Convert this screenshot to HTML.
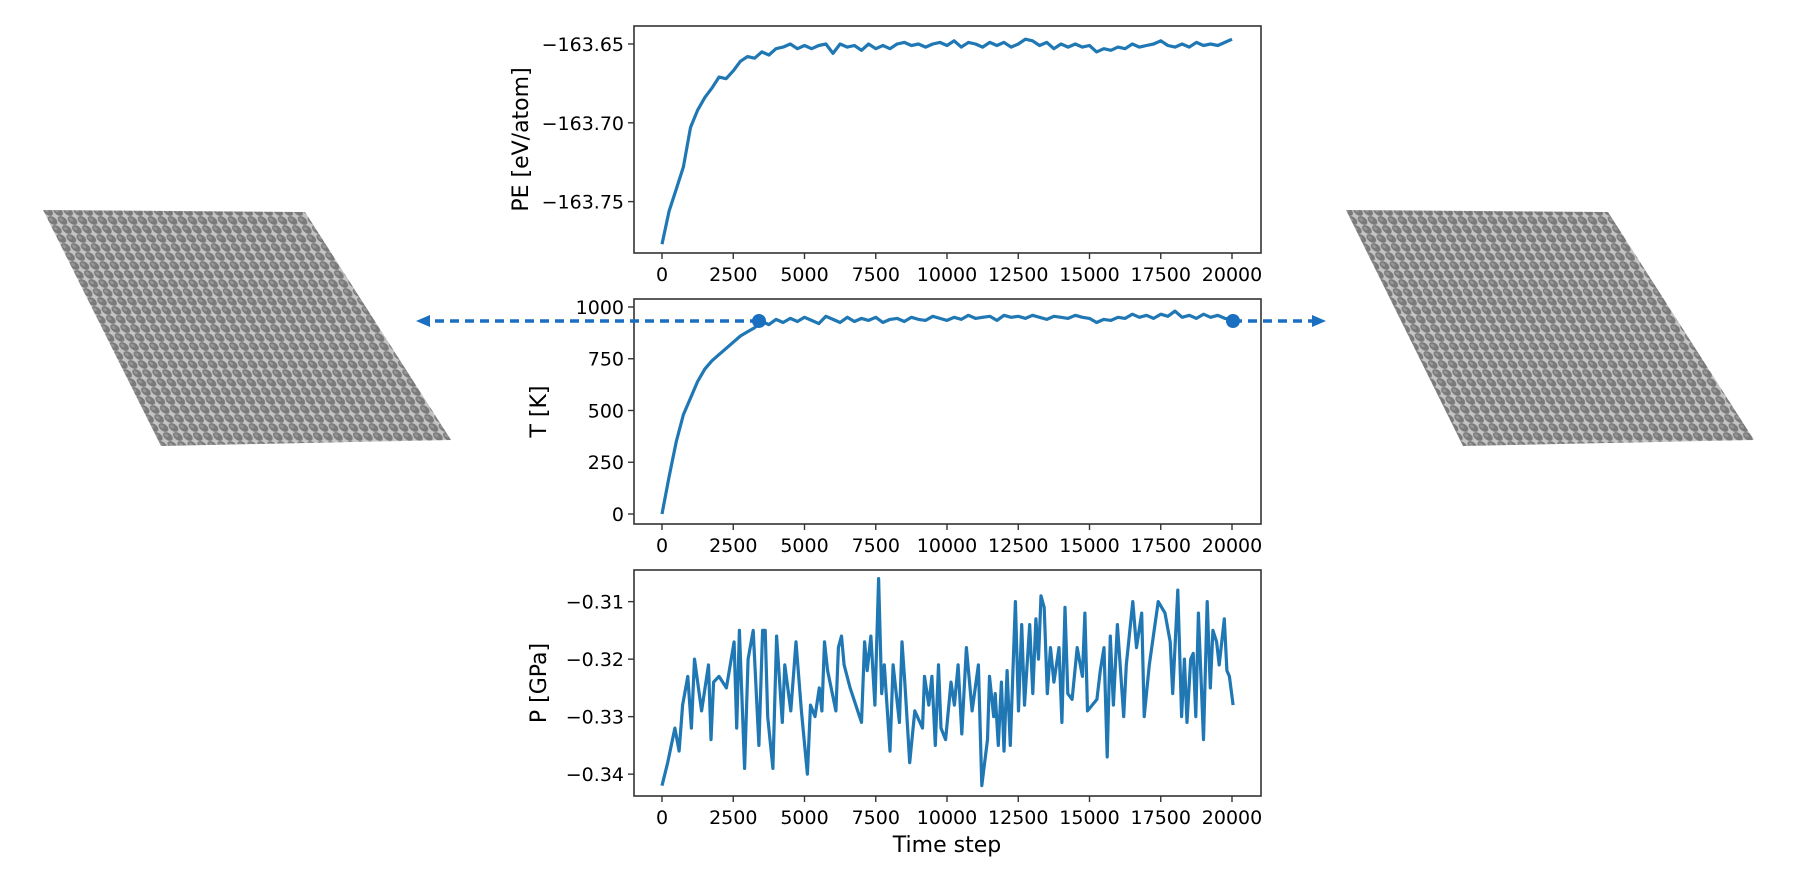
<!DOCTYPE html>
<html><head><meta charset="utf-8"><style>
html,body{margin:0;padding:0;background:#fff;}
svg{display:block;font-family:"DejaVu Sans","Liberation Sans",sans-serif;}
</style></head><body>
<svg id="fig" width="1794" height="872" viewBox="0 0 1794 872">
<defs>
<pattern id="atoms" width="10" height="9" patternUnits="userSpaceOnUse" patternTransform="skewX(26)">
<rect width="10" height="9" fill="#c4c4c4"/>
<circle cx="5" cy="4.5" r="4.4" fill="#7a7a7a"/>
<circle cx="4" cy="3.5" r="1.8" fill="#959595"/>
</pattern>
<marker id="ah" markerUnits="userSpaceOnUse" markerWidth="14" markerHeight="12" refX="7" refY="6" orient="auto"><path d="M0,0 L14,6 L0,12 z" fill="#1a6fc0"/></marker>
</defs>
<polygon points="43,210 305,212 451,440 161,446" fill="url(#atoms)"/>
<polygon points="1346,210 1608,212 1754,440 1463,446" fill="url(#atoms)"/>
<g id="charts"></g>
<line x1="759" y1="321" x2="423" y2="321" stroke="#1a6fc0" stroke-width="3.5" stroke-dasharray="9,6" marker-end="url(#ah)"/>
<line x1="1233" y1="321" x2="1319" y2="321" stroke="#1a6fc0" stroke-width="3.5" stroke-dasharray="9,6" marker-end="url(#ah)"/>
<circle cx="759" cy="321" r="7" fill="#1a6fc0"/>
<circle cx="1233" cy="321" r="7" fill="#1a6fc0"/>
<text x="947" y="852" font-size="22" text-anchor="middle">Time step</text>
</svg>
<script>
const xTicks=[0,2500,5000,7500,10000,12500,15000,17500,20000];
const peSteps=[0,250,500,750,1000,1250,1500,1750,2000,2250,2500,2750,3000,3250,3500,3750,4000,4250,4500,4750,5000,5250,5500,5750,6000,6250,6500,6750,7000,7250,7500,7750,8000,8250,8500,8750,9000,9250,9500,9750,10000,10250,10500,10750,11000,11250,11500,11750,12000,12250,12500,12750,13000,13250,13500,13750,14000,14250,14500,14750,15000,15250,15500,15750,16000,16250,16500,16750,17000,17250,17500,17750,18000,18250,18500,18750,19000,19250,19500,19750,20000];
const peValues=[-163.777,-163.756,-163.742,-163.728,-163.703,-163.692,-163.684,-163.678,-163.671,-163.672,-163.667,-163.661,-163.658,-163.659,-163.655,-163.657,-163.653,-163.652,-163.650,-163.653,-163.651,-163.653,-163.651,-163.650,-163.656,-163.650,-163.652,-163.651,-163.654,-163.650,-163.653,-163.651,-163.653,-163.650,-163.649,-163.651,-163.650,-163.652,-163.650,-163.649,-163.651,-163.648,-163.652,-163.649,-163.650,-163.652,-163.649,-163.651,-163.649,-163.652,-163.650,-163.647,-163.648,-163.651,-163.649,-163.653,-163.650,-163.652,-163.650,-163.652,-163.651,-163.655,-163.653,-163.654,-163.652,-163.653,-163.650,-163.652,-163.651,-163.650,-163.648,-163.651,-163.652,-163.650,-163.652,-163.649,-163.651,-163.650,-163.651,-163.649,-163.647];
const peTicks=[-163.75,-163.70,-163.65];
const tSteps=peSteps;
const tValues=[0,180,350,480,560,640,700,740,770,800,830,860,880,900,930,915,940,925,945,930,950,935,920,955,940,925,950,930,945,935,950,925,940,945,930,950,940,935,955,945,935,950,940,960,945,950,955,935,960,950,955,945,960,950,940,955,950,945,960,950,945,925,940,935,950,945,965,950,960,945,965,955,980,950,960,945,965,950,960,945,940];
const tTicks=[0,250,500,750,1000];
const pSteps=[0,200,452,600,724,905,1030,1140,1390,1630,1720,1810,2000,2260,2530,2620,2715,2900,3020,3200,3400,3530,3620,3710,3890,4020,4220,4310,4520,4700,4890,5100,5210,5370,5520,5610,5700,5810,6100,6190,6300,6390,6600,7000,7110,7200,7330,7470,7600,7710,7800,8000,8110,8330,8420,8520,8690,8870,9140,9210,9360,9470,9590,9700,9790,9950,10140,10260,10390,10520,10680,10880,11100,11220,11420,11490,11640,11690,11800,11910,12000,12110,12220,12400,12510,12620,12720,12900,13010,13120,13210,13300,13410,13520,13630,13750,13930,14030,14140,14240,14390,14570,14750,14840,14930,15260,15380,15510,15620,15730,15840,15980,16200,16290,16520,16650,16830,16920,17100,17410,17650,17830,17920,18100,18230,18330,18420,18550,18640,18730,18820,19000,19130,19240,19330,19460,19550,19730,19820,19910,20040];
const pValues=[-0.342,-0.338,-0.332,-0.336,-0.328,-0.323,-0.332,-0.320,-0.329,-0.321,-0.334,-0.324,-0.323,-0.325,-0.317,-0.332,-0.315,-0.339,-0.320,-0.315,-0.335,-0.315,-0.315,-0.330,-0.339,-0.316,-0.331,-0.321,-0.329,-0.317,-0.329,-0.340,-0.328,-0.330,-0.325,-0.329,-0.317,-0.322,-0.329,-0.318,-0.316,-0.321,-0.325,-0.331,-0.317,-0.322,-0.316,-0.328,-0.306,-0.326,-0.321,-0.336,-0.321,-0.331,-0.317,-0.324,-0.338,-0.329,-0.332,-0.323,-0.328,-0.323,-0.335,-0.321,-0.332,-0.334,-0.324,-0.328,-0.321,-0.333,-0.318,-0.329,-0.321,-0.342,-0.334,-0.323,-0.330,-0.326,-0.335,-0.324,-0.336,-0.322,-0.335,-0.310,-0.329,-0.314,-0.328,-0.314,-0.326,-0.313,-0.320,-0.309,-0.311,-0.326,-0.318,-0.324,-0.318,-0.331,-0.311,-0.326,-0.327,-0.318,-0.323,-0.312,-0.329,-0.327,-0.322,-0.318,-0.337,-0.316,-0.328,-0.314,-0.330,-0.321,-0.310,-0.318,-0.312,-0.330,-0.321,-0.310,-0.312,-0.317,-0.326,-0.308,-0.330,-0.320,-0.331,-0.320,-0.319,-0.330,-0.312,-0.334,-0.310,-0.325,-0.315,-0.317,-0.321,-0.313,-0.322,-0.323,-0.328];
const pTicks=[-0.34,-0.33,-0.32,-0.31];
const NS="http://www.w3.org/2000/svg";
const root=document.getElementById('charts');
function mk(tag,attrs,parent){const e=document.createElementNS(NS,tag);for(const k in attrs)e.setAttribute(k,attrs[k]);(parent||root).appendChild(e);return e;}
const L=634,R=1261,X0=662,X1=1232;
function xs(v){return X0+(v-0)*(X1-X0)/20000;}
function panel(name,top,bottom,vTop,vBot,steps,vals,ticks,fmt,label,labelX){
  const ys=v=>top+(vTop-v)*(bottom-top)/(vTop-vBot);
  const g=mk('g',{});
  
  
  let d='';
  steps.forEach((s,i)=>{d+=(i?'L':'M')+xs(s).toFixed(1)+','+ys(vals[i]).toFixed(1);});
  const line=mk('path',{d:d,fill:'none',stroke:'#1f77b4','stroke-width':3.2,'stroke-linejoin':'round'},g);
  
  
  const frame=mk('rect',{x:L,y:top,width:R-L,height:bottom-top,fill:'none',stroke:'#333','stroke-width':1.6},g);
  
  
  xTicks.forEach(t=>{
    mk('line',{x1:xs(t),x2:xs(t),y1:bottom,y2:bottom+6,stroke:'#333','stroke-width':1.4},g);
    const tx=mk('text',{x:xs(t),y:bottom+28,'font-size':19,'text-anchor':'middle'},g);
    tx.textContent=String(t);
    
    
  });
  ticks.forEach(t=>{
    const y=ys(t);
    mk('line',{x1:L-6,x2:L,y1:y,y2:y,stroke:'#333','stroke-width':1.4},g);
    const tx=mk('text',{x:L-10,y:y+7,'font-size':19,'text-anchor':'end'},g);
    tx.textContent=fmt(t);
    
    
  });
  const cy=(top+bottom)/2;
  const lab=mk('text',{x:labelX,y:cy,'font-size':22,'text-anchor':'middle',transform:'rotate(-90 '+labelX+' '+cy+')'},g);
  lab.textContent=label;
  
  
}
const minus=s=>s.replace('-','\u2212');
panel('potential-energy',26,253,-163.6386,-163.7826,peSteps,peValues,peTicks,t=>minus(t.toFixed(2)),'PE [eV/atom]',528);
panel('temperature',299,524,1038.6,-48.3,tSteps,tValues,tTicks,t=>String(t),'T [K]',546);
panel('pressure',570,796,-0.3045,-0.3438,pSteps,pValues,pTicks,t=>minus(t.toFixed(2)),'P [GPa]',546);
</script>
</body></html>
